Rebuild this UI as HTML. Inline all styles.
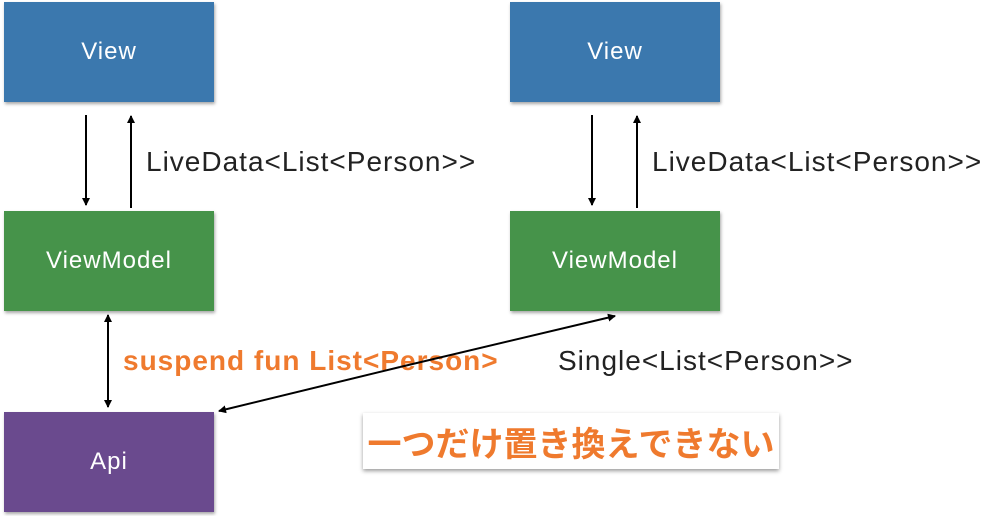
<!DOCTYPE html>
<html><head><meta charset="utf-8"><style>
body{margin:0;width:991px;height:516px;background:#fff;position:relative;overflow:hidden;font-family:"Liberation Sans","Noto Sans CJK JP",sans-serif}
.b{position:absolute;width:210px;height:100px;color:#fff;font-size:24px;letter-spacing:1px;display:flex;align-items:center;justify-content:center;box-shadow:1px 2px 3px rgba(0,0,0,.35)}
.t{position:absolute;font-size:28px;letter-spacing:1px;color:#222;white-space:nowrap}
</style></head><body>
<div class="b" style="left:4px;top:2px;background:#3b78ae">View</div>
<div class="b" style="left:510px;top:2px;background:#3b78ae">View</div>
<div class="b" style="left:4px;top:211px;background:#46934a">ViewModel</div>
<div class="b" style="left:510px;top:211px;background:#46934a">ViewModel</div>
<div class="b" style="left:4px;top:412px;background:#6a4a8e">Api</div>
<div class="t" style="left:146px;top:146px">LiveData&lt;List&lt;Person&gt;&gt;</div>
<div class="t" style="left:652px;top:146px">LiveData&lt;List&lt;Person&gt;&gt;</div>
<div class="t" style="left:558px;top:345px">Single&lt;List&lt;Person&gt;&gt;</div>
<div class="t" style="left:123px;top:345px;color:#ef7a2e;font-weight:bold">suspend fun List&lt;Person&gt;</div>
<div style="position:absolute;left:363px;top:413px;width:416px;height:56px;background:#fff;box-shadow:0 2px 4px rgba(0,0,0,.4);display:flex;align-items:center;justify-content:center;color:#ef7a2e;font-weight:bold;font-size:34px;white-space:nowrap">一つだけ置き換えできない</div>
<svg width="991" height="516" style="position:absolute;left:0;top:0">
<defs><marker id="a" markerWidth="8" markerHeight="8" refX="7" refY="4" orient="auto" markerUnits="userSpaceOnUse"><path d="M0,0L8,4L0,8z" fill="#000"/></marker></defs>
<g stroke="#000" stroke-width="2" marker-end="url(#a)">
<line x1="86" y1="115" x2="86" y2="205"/>
<line x1="131" y1="208" x2="131" y2="116"/>
<line x1="592" y1="115" x2="592" y2="205"/>
<line x1="637" y1="208" x2="637" y2="116"/>
<line x1="108" y1="360" x2="108" y2="407"/>
<line x1="108" y1="360" x2="108" y2="315"/>
<line x1="400" y1="367" x2="615" y2="316"/>
<line x1="400" y1="367" x2="219" y2="411"/>
</g></svg>
</body></html>
